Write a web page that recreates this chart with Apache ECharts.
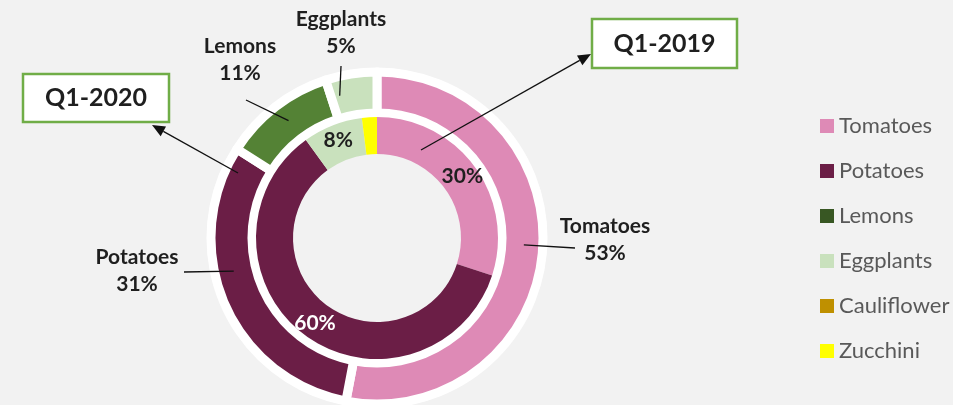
<!DOCTYPE html>
<html>
<head>
<meta charset="utf-8">
<script src="https://cdn.jsdelivr.net/npm/echarts@6/dist/echarts.min.js"></script>
<style>
  html, body { margin: 0; padding: 0; background: #f2f2f2; }
  #chart { width: 953px; height: 405px; }
</style>
</head>
<body>
<div id="chart"></div>
<script>
const chartDom = document.getElementById('chart');
const myChart = echarts.init(chartDom);

// share of each vegetable, in percent
let categories = ['Tomatoes', 'Potatoes', 'Lemons', 'Eggplants', 'Cauliflower', 'Zucchini'];
let q2019 = [30, 60, 0, 8, 0, 2];   // inner ring
let q2020 = [53, 31, 11, 5, 0, 0];  // outer ring

// colours (legend lemons is darker than the ring slice)
let legendColors = ['#de8ab6', '#6b1e46', '#385723', '#c9e1bd', '#bf9000', '#ffff00'];
let ringColors = ['#de8ab6', '#6b1e46', '#548235', '#c9e1bd', '#bf9000', '#ffff00'];

const center = [377, 238];
const font = 'Lato';
const dark = '#1f1f1f';

// outer ring label placement: label centre, leader start angle (deg from 12 o'clock), leader end
const labelPos = {
    Tomatoes: { pos: [605, 240], angle: 92.7, end: [575, 248] },
    Potatoes: { pos: [137, 271], angle: 257, end: [184, 272] },
    Lemons: { pos: [240, 60], angle: 323, end: [246, 100] },
    Eggplants: { pos: [341, 33], angle: 345.3, end: [341, 66] }
};
const leaderRadius = 147;

let innerData = categories.map((name, i) => ({
    name: name,
    value: q2019[i],
    itemStyle: { color: legendColors[i] },
    label: { color: name === 'Potatoes' ? '#fff' : dark }
}));

let outerData = [];
categories.forEach((name, i) => {
    if (q2020[i] > 0) {
        outerData.push({ name: name, value: q2020[i], itemStyle: { color: ringColors[i] } });
    }
});

let labelData = outerData.map(d => ({ name: d.name, value: d.value }));

// arrow from (x1,y1) to tip (x2,y2)
function arrow(x1, y1, x2, y2) {
    const a = Math.atan2(y2 - y1, x2 - x1);
    const len = 13, half = 5.5;
    const bx = x2 - len * Math.cos(a), by = y2 - len * Math.sin(a);
    return [
        {
            type: 'line',
            shape: { x1: x1, y1: y1, x2: bx, y2: by },
            style: { stroke: '#111', lineWidth: 1.3 },
            z: 20
        },
        {
            type: 'polygon',
            shape: {
                points: [
                    [x2, y2],
                    [bx + half * Math.sin(a), by - half * Math.cos(a)],
                    [bx - half * Math.sin(a), by + half * Math.cos(a)]
                ]
            },
            style: { fill: '#111' },
            z: 20
        }
    ];
}

function callout(x, y, w, h, text) {
    return [
        {
            type: 'rect',
            shape: { x: x, y: y, width: w, height: h },
            style: { fill: '#fff', stroke: '#70ad47', lineWidth: 2.5 },
            z: 20
        },
        {
            type: 'text',
            x: x + w / 2,
            y: y + h / 2,
            style: {
                text: text,
                font: 'bold 25px ' + font,
                fill: dark,
                align: 'center',
                verticalAlign: 'middle'
            },
            z: 21
        }
    ];
}

let option = {
    backgroundColor: '#f2f2f2',
    legend: {
        orient: 'vertical',
        left: 815,
        top: 110,
        icon: 'rect',
        itemWidth: 14,
        itemHeight: 14,
        itemGap: 23,
        selectedMode: false,
        data: categories,
        textStyle: {
            fontFamily: font,
            fontSize: 22,
            lineHeight: 22,
            color: '#595959'
        }
    },
    series: [
        {
            // Q1-2019
            name: 'Q1-2019',
            type: 'pie',
            center: center,
            radius: [84, 121],
            z: 3,
            silent: true,
            avoidLabelOverlap: false,
            label: {
                position: 'inside',
                fontFamily: font,
                fontSize: 21,
                fontWeight: 'bold',
                formatter: p => (p.value >= 5 ? p.value + '%' : '')
            },
            labelLine: { show: false },
            data: innerData
        },
        {
            // white halo behind the outer ring
            type: 'pie',
            center: center,
            radius: [119, 170],
            z: 1,
            silent: true,
            label: { show: false },
            labelLine: { show: false },
            itemStyle: { color: '#fff' },
            data: [{ name: 'halo', value: 1 }]
        },
        {
            // Q1-2020
            name: 'Q1-2020',
            type: 'pie',
            center: center,
            radius: [125, 166],
            z: 2,
            silent: true,
            label: { show: false },
            labelLine: { show: false },
            itemStyle: { borderColor: '#fff', borderWidth: 9 },
            data: outerData
        },
        {
            // label carrier for the outer ring
            type: 'pie',
            center: center,
            radius: [140, 146],
            z: 4,
            silent: true,
            avoidLabelOverlap: false,
            itemStyle: { color: 'rgba(0,0,0,0)' },
            label: {
                position: 'outside',
                fontFamily: font,
                fontSize: 21,
                fontWeight: 'bold',
                lineHeight: 27,
                color: dark,
                align: 'center',
                formatter: p => p.name + '\n' + p.value + '%'
            },
            labelLine: {
                show: true,
                length: 10,
                length2: 5,
                lineStyle: { color: '#111', width: 1.3 }
            },
            labelLayout: function (params) {
                const d = labelData[params.dataIndex];
                const cfg = labelPos[d.name];
                const a = cfg.angle * Math.PI / 180;
                const start = [center[0] + leaderRadius * Math.sin(a), center[1] - leaderRadius * Math.cos(a)];
                return {
                    x: cfg.pos[0],
                    y: cfg.pos[1],
                    align: 'center',
                    verticalAlign: 'middle',
                    labelLinePoints: [start, cfg.end, cfg.end]
                };
            },
            data: labelData
        }
    ],
    graphic: [].concat(
        callout(592, 19, 145, 49, 'Q1-2019'),
        callout(23, 74, 146, 48, 'Q1-2020'),
        arrow(421, 150, 591, 54),
        arrow(238, 173, 152, 125)
    )
};

myChart.setOption(option);
</script>
</body>
</html>
